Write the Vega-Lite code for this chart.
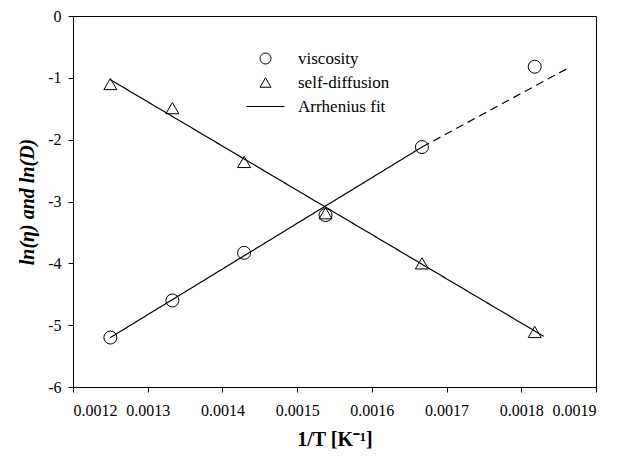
{
  "$schema": "https://vega.github.io/schema/vega-lite/v6.json",
  "width": 523,
  "height": 371,
  "autosize": {"type": "none"},
  "padding": {"left": 73, "top": 16, "right": 25, "bottom": 69},
  "background": "white",
  "config": {
    "view": {"stroke": "black", "strokeWidth": 1},
    "axis": {
      "grid": false,
      "domainColor": "black",
      "tickColor": "black",
      "labelColor": "black",
      "titleColor": "black",
      "labelFont": "Liberation Serif",
      "titleFont": "Liberation Serif",
      "labelFontSize": 16,
      "titleFontSize": 20,
      "tickSize": 5,
      "labelFontWeight": "normal"
    }
  },
  "datasets": {
    "fit": [
      {"x": 0.00125, "y": -5.2, "seg": "viscosity fit", "style": "solid"},
      {"x": 0.001667, "y": -2.12, "seg": "viscosity fit", "style": "solid"},
      {"x": 0.001667, "y": -2.12, "seg": "viscosity extrapolation", "style": "dashed"},
      {"x": 0.001863, "y": -0.84, "seg": "viscosity extrapolation", "style": "dashed"},
      {"x": 0.00125, "y": -1.03, "seg": "self-diffusion fit", "style": "solid"},
      {"x": 0.00183, "y": -5.18, "seg": "self-diffusion fit", "style": "solid"}
    ],
    "points": [
      {"x": 0.00125, "y": -5.2, "series": "viscosity"},
      {"x": 0.001333, "y": -4.6, "series": "viscosity"},
      {"x": 0.001429, "y": -3.83, "series": "viscosity"},
      {"x": 0.001538, "y": -3.22, "series": "viscosity"},
      {"x": 0.001667, "y": -2.12, "series": "viscosity"},
      {"x": 0.001818, "y": -0.82, "series": "viscosity"},
      {"x": 0.00125, "y": -1.1, "series": "self-diffusion"},
      {"x": 0.001333, "y": -1.49, "series": "self-diffusion"},
      {"x": 0.001429, "y": -2.36, "series": "self-diffusion"},
      {"x": 0.001538, "y": -3.19, "series": "self-diffusion"},
      {"x": 0.001667, "y": -4.0, "series": "self-diffusion"},
      {"x": 0.001818, "y": -5.11, "series": "self-diffusion"}
    ]
  },
  "layer": [
    {
      "data": {"name": "fit"},
      "mark": {"type": "line", "color": "black", "strokeWidth": 1.2},
      "encoding": {
        "x": {
          "field": "x", "type": "quantitative",
          "scale": {"domain": [0.0012, 0.0019], "nice": false, "zero": false},
          "axis": {
            "title": "1/T [K⁻¹]", "titleFontWeight": "bold",
            "values": [0.0012, 0.0013, 0.0014, 0.0015, 0.0016, 0.0017, 0.0018, 0.0019],
            "labelExpr": "format(datum.value, '.4f')",
            "labelPadding": 10, "titlePadding": 11
          }
        },
        "y": {
          "field": "y", "type": "quantitative",
          "scale": {"domain": [-6, 0], "nice": false, "zero": false},
          "axis": {
            "title": "ln(η) and ln(D)", "titleFontWeight": "bold", "titleFontStyle": "italic",
            "values": [-6, -5, -4, -3, -2, -1, 0],
            "labelExpr": "'' + datum.value",
            "labelPadding": 7, "titlePadding": 10
          }
        },
        "detail": {"field": "seg"},
        "strokeDash": {
          "field": "style", "type": "nominal",
          "scale": {"domain": ["solid", "dashed"], "range": [[1, 0], [8, 5]]},
          "legend": null
        }
      }
    },
    {
      "data": {"name": "points"},
      "mark": {"type": "point", "filled": false, "color": "black", "strokeWidth": 1, "size": 169, "opacity": 1},
      "encoding": {
        "x": {"field": "x", "type": "quantitative"},
        "y": {"field": "y", "type": "quantitative"},
        "shape": {
          "field": "series", "type": "nominal",
          "scale": {
            "domain": ["viscosity", "self-diffusion", "Arrhenius fit"],
            "range": ["circle", "triangle-up", "M-3.45,0H3.45"]
          },
          "legend": {
            "title": null,
            "orient": "none",
            "legendX": 184,
            "legendY": 34,
            "padding": 0,
            "labelFont": "Liberation Serif",
            "labelFontSize": 17,
            "labelColor": "black",
            "symbolSize": 121,
            "symbolStrokeColor": "black",
            "symbolStrokeWidth": 1,
            "symbolFillColor": "transparent",
            "labelOffset": 24,
            "rowPadding": 6
          }
        }
      }
    }
  ]
}
